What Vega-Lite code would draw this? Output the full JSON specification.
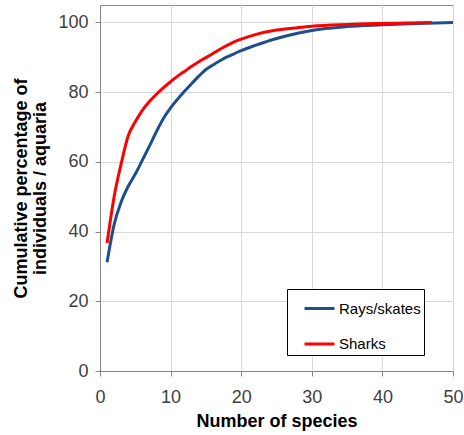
{
  "$schema": "https://vega.github.io/schema/vega-lite/v6.json",
  "autosize": {"type": "none"},
  "padding": {"left": 100, "top": 5, "right": 11, "bottom": 64},
  "width": 353,
  "height": 366,
  "background": "white",
  "config": {
    "view": {"stroke": "#8c8c8c", "strokeWidth": 1},
    "font": "Liberation Sans"
  },
  "data": {
    "values": [
      {"series": "Rays/skates", "x": 1, "y": 31.2},
      {"series": "Rays/skates", "x": 2, "y": 42},
      {"series": "Rays/skates", "x": 3, "y": 48.5},
      {"series": "Rays/skates", "x": 4, "y": 53},
      {"series": "Rays/skates", "x": 5, "y": 56.5},
      {"series": "Rays/skates", "x": 6, "y": 60.5},
      {"series": "Rays/skates", "x": 7, "y": 64.5},
      {"series": "Rays/skates", "x": 8, "y": 68.7},
      {"series": "Rays/skates", "x": 9, "y": 72.5},
      {"series": "Rays/skates", "x": 10, "y": 75.5},
      {"series": "Rays/skates", "x": 11, "y": 78},
      {"series": "Rays/skates", "x": 12, "y": 80.3},
      {"series": "Rays/skates", "x": 13, "y": 82.5},
      {"series": "Rays/skates", "x": 14, "y": 84.6},
      {"series": "Rays/skates", "x": 15, "y": 86.5},
      {"series": "Rays/skates", "x": 16, "y": 87.8},
      {"series": "Rays/skates", "x": 17, "y": 89},
      {"series": "Rays/skates", "x": 18, "y": 90.1},
      {"series": "Rays/skates", "x": 19, "y": 91},
      {"series": "Rays/skates", "x": 20, "y": 91.9},
      {"series": "Rays/skates", "x": 22, "y": 93.4},
      {"series": "Rays/skates", "x": 25, "y": 95.4},
      {"series": "Rays/skates", "x": 28, "y": 96.9},
      {"series": "Rays/skates", "x": 30, "y": 97.7},
      {"series": "Rays/skates", "x": 35, "y": 98.8},
      {"series": "Rays/skates", "x": 40, "y": 99.3},
      {"series": "Rays/skates", "x": 45, "y": 99.7},
      {"series": "Rays/skates", "x": 50, "y": 100},
      {"series": "Sharks", "x": 1, "y": 36.7},
      {"series": "Sharks", "x": 2, "y": 50},
      {"series": "Sharks", "x": 3, "y": 59.5},
      {"series": "Sharks", "x": 4, "y": 67.5},
      {"series": "Sharks", "x": 5, "y": 71.5},
      {"series": "Sharks", "x": 6, "y": 74.8},
      {"series": "Sharks", "x": 7, "y": 77.3},
      {"series": "Sharks", "x": 8, "y": 79.4},
      {"series": "Sharks", "x": 9, "y": 81.3},
      {"series": "Sharks", "x": 10, "y": 83},
      {"series": "Sharks", "x": 11, "y": 84.6},
      {"series": "Sharks", "x": 12, "y": 86},
      {"series": "Sharks", "x": 13, "y": 87.4},
      {"series": "Sharks", "x": 14, "y": 88.7},
      {"series": "Sharks", "x": 15, "y": 89.9},
      {"series": "Sharks", "x": 16, "y": 91.1},
      {"series": "Sharks", "x": 17, "y": 92.3},
      {"series": "Sharks", "x": 18, "y": 93.4},
      {"series": "Sharks", "x": 19, "y": 94.4},
      {"series": "Sharks", "x": 20, "y": 95.2},
      {"series": "Sharks", "x": 22, "y": 96.5},
      {"series": "Sharks", "x": 25, "y": 97.8},
      {"series": "Sharks", "x": 28, "y": 98.5},
      {"series": "Sharks", "x": 30, "y": 98.9},
      {"series": "Sharks", "x": 35, "y": 99.4},
      {"series": "Sharks", "x": 40, "y": 99.7},
      {"series": "Sharks", "x": 47, "y": 100}
    ]
  },
  "mark": {"type": "line", "strokeWidth": 3, "interpolate": "monotone"},
  "encoding": {
    "x": {
      "field": "x", "type": "quantitative",
      "scale": {"domain": [0, 50], "nice": false},
      "axis": {
        "title": "Number of species",
        "values": [0, 10, 20, 30, 40, 50],
        "grid": true, "gridColor": "#d9d9d9", "gridWidth": 1,
        "domainColor": "#868686", "tickColor": "#868686", "tickSize": 5,
        "labelFont": "Liberation Sans", "labelFontSize": 18, "labelColor": "#404040", "labelPadding": 12,
        "labelFlush": false,
        "titleFont": "Liberation Sans", "titleFontSize": 18, "titleFontWeight": "bold", "titleColor": "#000000", "titlePadding": 6
      }
    },
    "y": {
      "field": "y", "type": "quantitative",
      "scale": {"domain": [0, 105], "nice": false},
      "axis": {
        "title": ["Cumulative percentage of", "individuals / aquaria"],
        "values": [0, 20, 40, 60, 80, 100],
        "grid": true, "gridColor": "#d9d9d9", "gridWidth": 1,
        "domainColor": "#868686", "tickColor": "#868686", "tickSize": 5,
        "labelFont": "Liberation Sans", "labelFontSize": 18, "labelColor": "#404040", "labelPadding": 7,
        "titleFont": "Liberation Sans", "titleFontSize": 18, "titleFontWeight": "bold", "titleColor": "#000000", "titlePadding": 8,
        "titleLineHeight": 19
      }
    },
    "color": {
      "field": "series", "type": "nominal",
      "scale": {"domain": ["Rays/skates", "Sharks"], "range": ["#1f4e8c", "#ff0000"]},
      "legend": {
        "title": null,
        "orient": "none", "legendX": 187, "legendY": 284,
        "direction": "vertical",
        "symbolType": "stroke", "symbolSize": 900, "symbolStrokeWidth": 3,
        "symbolOffset": 13,
        "labelExpr": "datum.label + '\u00a0\u00a0\u00a0\u00a0\u00a0'",
        "labelFont": "Liberation Sans", "labelFontSize": 15, "labelColor": "#000000", "labelOffset": 3,
        "strokeColor": "#000000", "fillColor": "#ffffff",
        "padding": 3, "rowPadding": 10.5
      }
    }
  }
}
